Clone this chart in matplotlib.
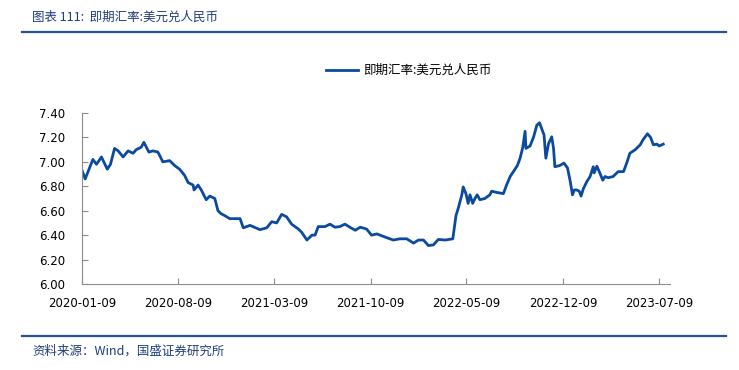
import matplotlib
matplotlib.use("Agg")
import matplotlib.pyplot as plt
import matplotlib.dates as mdates
from matplotlib.lines import Line2D
import pandas as pd

plt.rcParams['font.family'] = ['Noto Sans CJK SC', 'DejaVu Sans']

# Data: USD/CNY spot rate
dates = [
    "2020-01-09", "2020-01-16", "2020-02-02", "2020-02-10", "2020-02-21", "2020-03-05",
    "2020-03-12", "2020-03-21", "2020-03-29", "2020-04-09", "2020-04-20", "2020-05-01",
    "2020-05-08", "2020-05-19", "2020-05-25", "2020-06-05", "2020-06-14", "2020-06-25",
    "2020-07-06", "2020-07-21", "2020-08-01", "2020-08-12", "2020-08-23", "2020-08-31",
    "2020-09-11", "2020-09-13", "2020-09-22", "2020-09-29", "2020-10-10", "2020-10-18",
    "2020-10-29", "2020-11-05", "2020-11-12", "2020-11-20", "2020-12-01", "2020-12-19",
    "2020-12-24", "2020-12-31", "2021-01-15", "2021-02-06", "2021-02-21", "2021-03-04",
    "2021-03-15", "2021-03-26", "2021-04-06", "2021-04-17", "2021-05-02", "2021-05-09",
    "2021-05-21", "2021-06-01", "2021-06-08", "2021-06-15", "2021-06-30", "2021-07-11",
    "2021-07-22", "2021-08-02", "2021-08-13", "2021-08-24", "2021-09-05", "2021-09-16",
    "2021-09-30", "2021-10-11", "2021-10-23", "2021-11-06", "2021-11-28", "2021-12-13",
    "2021-12-28", "2022-01-12", "2022-01-23", "2022-02-03", "2022-02-14", "2022-02-25",
    "2022-03-08", "2022-03-23", "2022-04-09", "2022-04-16", "2022-04-21", "2022-04-29",
    "2022-05-02", "2022-05-08", "2022-05-13", "2022-05-17", "2022-05-23", "2022-05-28",
    "2022-06-02", "2022-06-08", "2022-06-19", "2022-06-30", "2022-07-04", "2022-07-15",
    "2022-07-30", "2022-08-06", "2022-08-14", "2022-08-21", "2022-08-30", "2022-09-05",
    "2022-09-11", "2022-09-16", "2022-09-18", "2022-09-27", "2022-10-05", "2022-10-12",
    "2022-10-18", "2022-10-23", "2022-10-28", "2022-11-01", "2022-11-07", "2022-11-14",
    "2022-11-18", "2022-11-21", "2022-12-02", "2022-12-11", "2022-12-19", "2022-12-25",
    "2022-12-30", "2023-01-03", "2023-01-08", "2023-01-14", "2023-01-18", "2023-01-23",
    "2023-01-31", "2023-02-07", "2023-02-14", "2023-02-16", "2023-02-22", "2023-03-01",
    "2023-03-07", "2023-03-12", "2023-03-19", "2023-03-30", "2023-04-10", "2023-04-22",
    "2023-04-29", "2023-05-06", "2023-05-18", "2023-05-29", "2023-06-04", "2023-06-14",
    "2023-06-21", "2023-06-27", "2023-07-05", "2023-07-10", "2023-07-19",
]
rates = [
    6.93, 6.86, 7.02, 6.98, 7.04, 6.94,
    6.98, 7.11, 7.09, 7.04, 7.09, 7.07,
    7.10, 7.12, 7.16, 7.08, 7.09, 7.08,
    7.00, 7.01, 6.97, 6.94, 6.89, 6.83,
    6.81, 6.77, 6.81, 6.77, 6.69, 6.72,
    6.70, 6.60, 6.575, 6.56, 6.535, 6.535,
    6.535, 6.46, 6.48, 6.445, 6.46, 6.51,
    6.50, 6.57, 6.55, 6.49, 6.45, 6.425,
    6.36, 6.40, 6.40, 6.47, 6.47, 6.49,
    6.465, 6.47, 6.49, 6.465, 6.44, 6.465,
    6.45, 6.40, 6.41, 6.39, 6.36, 6.37,
    6.37, 6.335, 6.36, 6.36, 6.315, 6.32,
    6.365, 6.36, 6.37, 6.56, 6.62, 6.73,
    6.795, 6.74, 6.66, 6.73, 6.66, 6.70,
    6.73, 6.69, 6.70, 6.73, 6.76, 6.75,
    6.74, 6.81, 6.88, 6.92, 6.97, 7.03,
    7.12, 7.25, 7.11, 7.13, 7.205, 7.30,
    7.32, 7.27, 7.22, 7.03, 7.15, 7.205,
    7.11, 6.96, 6.97, 6.99, 6.95, 6.84,
    6.73, 6.77, 6.77, 6.76, 6.72, 6.78,
    6.84, 6.88, 6.96, 6.91, 6.965, 6.905,
    6.85, 6.88, 6.87, 6.88, 6.92, 6.92,
    6.99, 7.07, 7.10, 7.14, 7.18, 7.23,
    7.20, 7.14, 7.145, 7.13, 7.145,
]
tick_dates = ["2020-01-09", "2020-08-09", "2021-03-09", "2021-10-09",
              "2022-05-09", "2022-12-09", "2023-07-09"]
y_ticks = [6.00, 6.20, 6.40, 6.60, 6.80, 7.00, 7.20, 7.40]
series_name = "即期汇率:美元兑人民币"

x = pd.to_datetime(dates)
blue = '#0B4A9E'
grey = '#8C8C8C'

fig = plt.figure(figsize=(7.39, 3.70), dpi=100)
ax = fig.add_axes([0.111, 0.2324, 0.7963, 0.4622])

ax.plot(x, rates, color=blue, linewidth=2.0, label=series_name)

ax.set_ylim(6.0, 7.4)
ax.set_yticks(y_ticks)
ax.set_yticklabels([f"{v:.2f}" for v in y_ticks])
ax.set_xlim(pd.Timestamp("2020-01-09"), pd.Timestamp("2023-08-04"))
ax.set_xticks(pd.to_datetime(tick_dates))
ax.xaxis.set_major_formatter(mdates.DateFormatter("%Y-%m-%d"))

for lab in ax.get_xticklabels() + ax.get_yticklabels():
    lab.set_family('DejaVu Sans')
    lab.set_fontsize(8.5)
ax.tick_params(axis='both', direction='in', length=4, width=0.8, color=grey)
ax.tick_params(axis='x', pad=9)
ax.tick_params(axis='y', pad=12)

ax.spines['top'].set_visible(False)
ax.spines['right'].set_visible(False)
ax.spines['left'].set_color(grey)
ax.spines['bottom'].set_color(grey)

ax.legend(loc='center', bbox_to_anchor=(0.5528, 0.809), bbox_transform=fig.transFigure,
          frameon=False, handlelength=2.6, handletextpad=0.35, fontsize=9)

# header / footer
title_blue = '#1F3D7A'
fig.text(32 / 739, 1 - 17 / 370, "图表 111:  即期汇率:美元兑人民币", color=title_blue,
         fontsize=9, style='italic', va='center', ha='left')
fig.add_artist(Line2D([22 / 739, 726 / 739], [1 - 32 / 370] * 2, color='#2352A0',
                      linewidth=1.6, transform=fig.transFigure))
fig.add_artist(Line2D([22 / 739, 726 / 739], [1 - 336 / 370] * 2, color='#2352A0',
                      linewidth=1.6, transform=fig.transFigure))
fig.text(32 / 739, 1 - 351 / 370, "资料来源：Wind，国盛证券研究所", color=title_blue,
         fontsize=9, style='italic', va='center', ha='left')

fig.savefig("out.png", dpi=100)
